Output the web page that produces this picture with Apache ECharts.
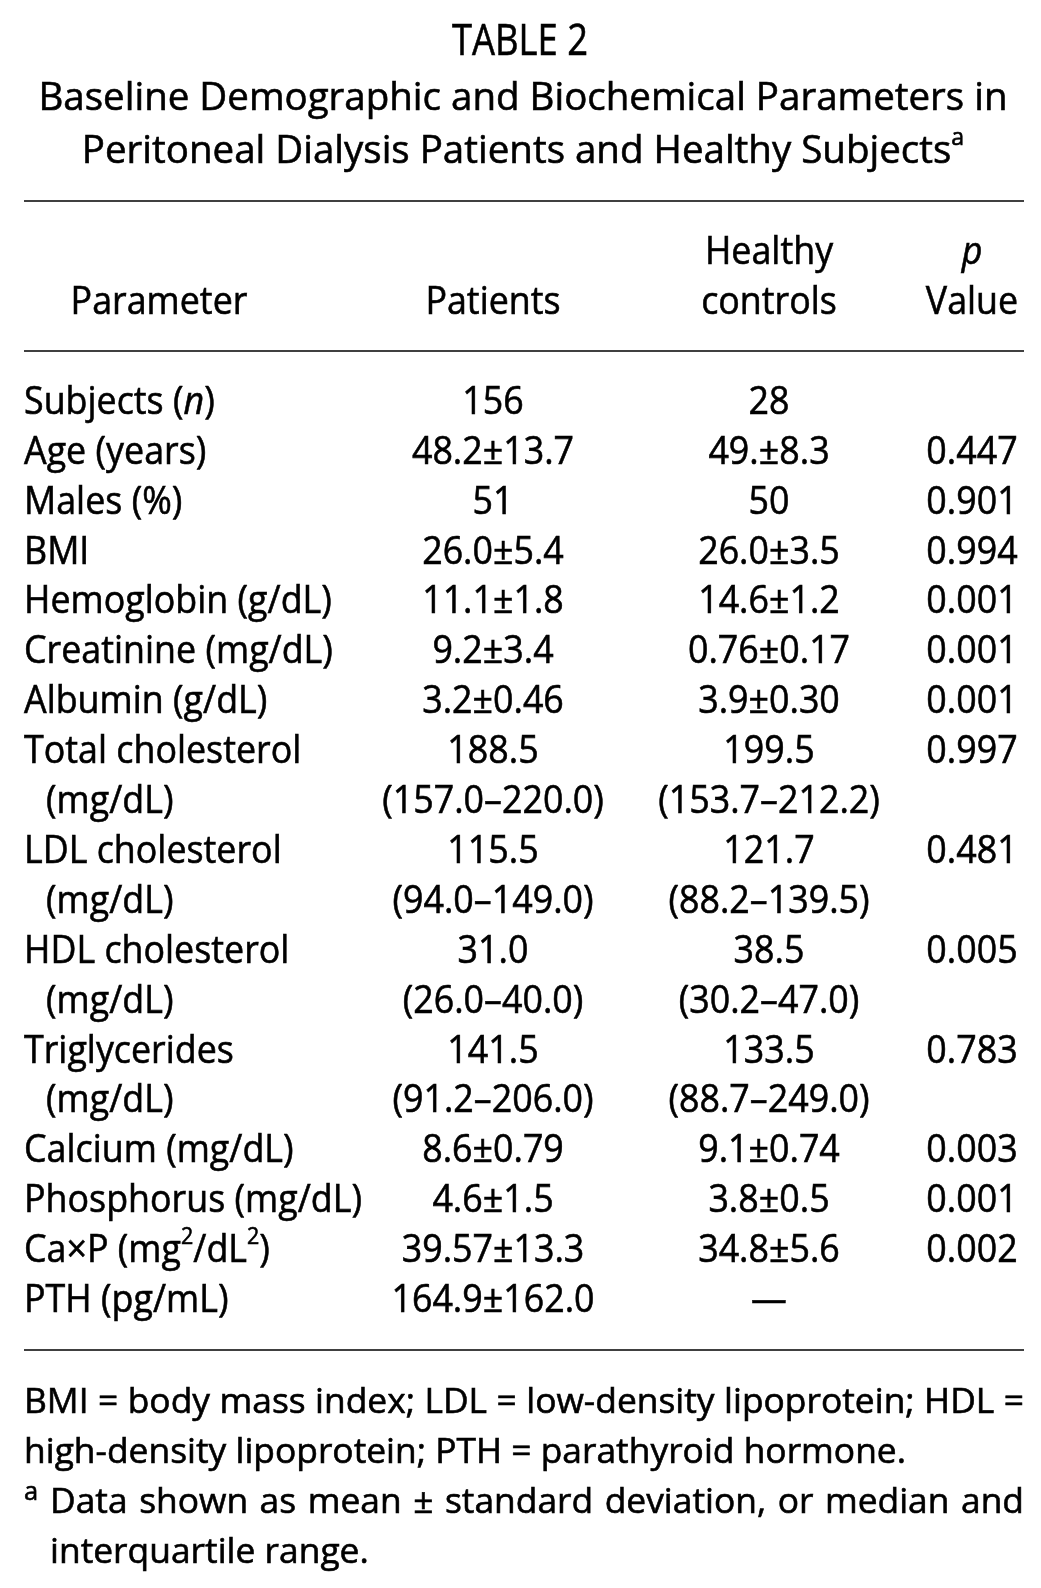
<!DOCTYPE html>
<html>
<head>
<meta charset="utf-8">
<script src="https://cdn.jsdelivr.net/npm/echarts@6/dist/echarts.min.js"></script>
<style>
html,body{margin:0;padding:0;background:#fff;}
#c{width:1041px;height:1588px;}
</style>
</head>
<body>
<div id="c"></div>
<script>
const tableNumber = 'TABLE 2';
const titleLines = [
  'Baseline Demographic and Biochemical Parameters in',
  'Peritoneal Dialysis Patients and Healthy Subjects{s|a}'
];
const columnHeaders = [
  ['', 'Parameter'],
  ['', 'Patients'],
  ['Healthy', 'controls'],
  ['{i|p}', 'Value']
];
const parameters = [
  'Subjects ({i|n})', 'Age (years)', 'Males (%)', 'BMI', 'Hemoglobin (g/dL)',
  'Creatinine (mg/dL)', 'Albumin (g/dL)', 'Total cholesterol\n(mg/dL)',
  'LDL cholesterol\n(mg/dL)', 'HDL cholesterol\n(mg/dL)', 'Triglycerides\n(mg/dL)',
  'Calcium (mg/dL)', 'Phosphorus (mg/dL)', 'Ca×P (mg{s|2}/dL{s|2})', 'PTH (pg/mL)'
];
const patients = [
  '156', '48.2±13.7', '51', '26.0±5.4', '11.1±1.8', '9.2±3.4', '3.2±0.46',
  '188.5\n(157.0–220.0)', '115.5\n(94.0–149.0)', '31.0\n(26.0–40.0)', '141.5\n(91.2–206.0)',
  '8.6±0.79', '4.6±1.5', '39.57±13.3', '164.9±162.0'
];
const controls = [
  '28', '49.±8.3', '50', '26.0±3.5', '14.6±1.2', '0.76±0.17', '3.9±0.30',
  '199.5\n(153.7–212.2)', '121.7\n(88.2–139.5)', '38.5\n(30.2–47.0)', '133.5\n(88.7–249.0)',
  '9.1±0.74', '3.8±0.5', '34.8±5.6', '—'
];
const pValues = [
  '', '0.447', '0.901', '0.994', '0.001', '0.001', '0.001',
  '0.997', '0.481', '0.005', '0.783', '0.003', '0.001', '0.002', ''
];
const abbreviationNote = [
  'BMI = body mass index; LDL = low-density lipoprotein; HDL =',
  'high-density lipoprotein; PTH = parathyroid hormone.'
];
const footnoteMarker = 'a';
const footnoteA = [
  'Data shown as mean ± standard deviation, or median and',
  'interquartile range.'
];

// ---------------- layout / style ----------------
const W = 1041, H = 1588;
const L = {
  family: '"Open Sans", "Noto Sans", "DejaVu Sans", sans-serif',
  color: '#000', strokeW: 0.6,
  tableSize: 43, titleSize: 39, bodySize: 39, noteSize: 35,
  tableWidth: 136, titleWidth: 969, bodyRefWidth: 338, noteRefWidth: 882,
  line0: 400, lineGap: 49.9,
  tableY: 40, titleY: [96, 149],
  tableCenter: 520, titleCenter: 523,
  ruleY: [201, 351, 1350], ruleX: [24, 1024], ruleWidth: 1.5,
  colX: [24, 493, 769, 972], colAlign: ['left', 'center', 'center', 'center'],
  headerX: [159, 493, 769, 972], contX: 46,
  noteLeft: 24, noteIndent: 50, noteRight: 1024, noteShift: 3,
  supScale: 0.6, markerScale: 0.72, supRaise: 0.34, capShift: 0.07
};

// ---------------- text measuring helpers ----------------
const mctx = document.createElement('canvas').getContext('2d');
function parse(str) {
  const re = /\{(i|s|m)\|([^}]*)\}/g;
  const segs = [];
  let last = 0, m;
  while ((m = re.exec(str))) {
    if (m.index > last) segs.push({ t: str.slice(last, m.index) });
    segs.push({ t: m[2], kind: m[1] });
    last = re.lastIndex;
  }
  if (last < str.length) segs.push({ t: str.slice(last) });
  return segs;
}
function segStyle(seg, size) {
  return {
    fontSize: seg.kind === 's' ? size * L.supScale : seg.kind === 'm' ? size * L.markerScale : size,
    fontStyle: seg.kind === 'i' ? 'italic' : 'normal'
  };
}
function segW(seg, size) {
  const st = segStyle(seg, size);
  mctx.font = st.fontStyle + ' ' + st.fontSize + 'px ' + L.family;
  return mctx.measureText(seg.t).width;
}
function textW(str, size) {
  return parse(str).reduce((a, s) => a + segW(s, size), 0);
}
const scaleTable = L.tableWidth / textW(tableNumber, L.tableSize);
const scaleTitle = L.titleWidth / textW(titleLines[0], L.titleSize);
const scaleBody = L.bodyRefWidth / textW('Phosphorus (mg/dL)', L.bodySize);
const scaleNote = L.noteRefWidth / textW(abbreviationNote[1], L.noteSize);

// ---------------- build table items ----------------
const toLine = y => (y - L.line0) / L.lineGap;
const items = [];
function addText(text, x, line, align, size, scale, justify) {
  items.push({ kind: 'text', text, x, line, align, size, scale, justify });
}
addText(tableNumber, L.tableCenter, toLine(L.tableY), 'center', L.tableSize, scaleTable);
titleLines.forEach((t, k) => addText(t, L.titleCenter, toLine(L.titleY[k]), 'center', L.titleSize, scaleTitle));
L.ruleY.forEach(y => items.push({ kind: 'rule', x: L.ruleX[0], x2: L.ruleX[1], line: toLine(y) }));

columnHeaders.forEach((lines, c) => {
  lines.forEach((t, k) => {
    if (t) addText(t, L.headerX[c], -3 + k, 'center', L.bodySize, scaleBody);
  });
});

let line = 0;
const columns = [parameters, patients, controls, pValues];
parameters.forEach((p, r) => {
  let span = 1;
  columns.forEach((col, c) => {
    const parts = col[r].split('\n');
    span = Math.max(span, parts.length);
    parts.forEach((t, k) => {
      if (!t) return;
      const x = (c === 0 && k > 0) ? L.contX : L.colX[c];
      addText(t, x, line + k, L.colAlign[c], L.bodySize, scaleBody);
    });
  });
  line += span;
});
// footnotes start two lines after the last row (rule in between)
const noteLine = line + 1 + L.noteShift / L.lineGap;
addText(abbreviationNote[0], L.noteLeft, noteLine, 'left', L.noteSize, scaleNote, L.noteRight - L.noteLeft);
addText(abbreviationNote[1], L.noteLeft, noteLine + 1, 'left', L.noteSize, scaleNote);
addText('{m|' + footnoteMarker + '}', L.noteLeft, noteLine + 2, 'left', L.noteSize, scaleNote);
addText(footnoteA[0], L.noteIndent, noteLine + 2, 'left', L.noteSize, scaleNote, L.noteRight - L.noteIndent);
addText(footnoteA[1], L.noteIndent, noteLine + 3, 'left', L.noteSize, scaleNote);

// ---------------- rendering ----------------
function placeSegs(segs, x0, y, size, scale, out) {
  let cx = x0;
  segs.forEach(seg => {
    const st = segStyle(seg, size);
    const raise = seg.kind === 's' ? size * L.supRaise : seg.kind === 'm' ? size * 0.3 : 0;
    const yy = y + size * L.capShift - raise;
    out.push({
      type: 'text',
      x: cx, y: yy, scaleX: scale,
      silent: true,
      style: {
        text: seg.t, x: 0, y: 0,
        fontSize: st.fontSize, fontStyle: st.fontStyle, fontFamily: L.family,
        fill: L.color, stroke: L.color, lineWidth: L.strokeW,
        align: 'left', verticalAlign: 'middle'
      }
    });
    cx += segW(seg, size) * scale;
  });
}

function renderItem(params, api) {
  const it = items[params.dataIndex];
  const pt = api.coord([api.value(0), api.value(1)]);
  if (it.kind === 'rule') {
    const pt2 = api.coord([it.x2, api.value(1)]);
    return {
      type: 'line', silent: true,
      shape: { x1: pt[0], y1: pt[1], x2: pt2[0], y2: pt2[1] },
      style: { stroke: L.color, lineWidth: L.ruleWidth }
    };
  }
  const children = [];
  if (it.justify) {
    const words = it.text.split(' ');
    const ws = words.map(w => textW(w, it.size) * it.scale);
    const total = ws.reduce((a, b) => a + b, 0);
    const gap = (it.justify - total) / (words.length - 1);
    let cx = pt[0];
    words.forEach((w, k) => {
      placeSegs(parse(w), cx, pt[1], it.size, it.scale, children);
      cx += ws[k] + gap;
    });
  } else {
    const segs = parse(it.text);
    const w = textW(it.text, it.size) * it.scale;
    const x0 = it.align === 'center' ? pt[0] - w / 2 : it.align === 'right' ? pt[0] - w : pt[0];
    placeSegs(segs, x0, pt[1], it.size, it.scale, children);
  }
  return { type: 'group', children };
}

const chart = echarts.init(document.getElementById('c'), null, { renderer: 'canvas', width: W, height: H });
chart.setOption({
  animation: false,
  backgroundColor: '#fff',
  grid: { left: 0, right: 0, top: 0, bottom: 0, containLabel: false },
  xAxis: { type: 'value', min: 0, max: W, show: false },
  yAxis: { type: 'value', min: toLine(0), max: toLine(H), inverse: true, show: false },
  series: [{
    type: 'custom',
    coordinateSystem: 'cartesian2d',
    clip: false,
    silent: true,
    data: items.map(d => [d.x, d.line]),
    renderItem
  }]
});
</script>
</body>
</html>
